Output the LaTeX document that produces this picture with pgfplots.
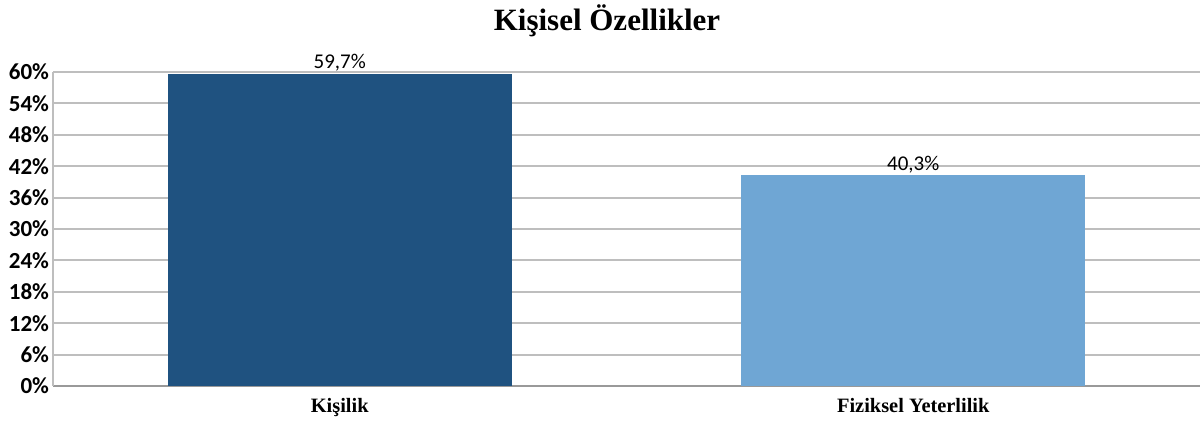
\documentclass[border=0pt]{standalone}
\usepackage{fontspec}
\setmainfont{Liberation Serif}
\newfontfamily\calfont{Carlito}
\usepackage{pgfplots}
\pgfplotsset{compat=1.18}
\definecolor{darkbar}{HTML}{1F5280}
\definecolor{lightbar}{HTML}{6FA6D4}
\definecolor{gridgray}{HTML}{BEBEBE}
\begin{document}
\begin{tikzpicture}
\begin{axis}[
  scale only axis,
  width=573.5pt, height=157pt,
  xmin=-0.5, xmax=1.5,
  ymin=0, ymax=60,
  ytick={0,6,...,60},
  yticklabel={\pgfmathprintnumber{\tick}\%},
  yticklabel style={font=\calfont\bfseries\fontsize{11.5}{13}\selectfont, xshift=1.5pt},
  /pgf/number format/assume math mode=true,
  xtick={0,1},
  xticklabels={Kişilik, Fiziksel Yeterlilik},
  xticklabel style={font=\bfseries\fontsize{10.2}{12}\selectfont, yshift=-2.5pt},
  major tick length=0pt,
  ymajorgrids,
  grid style={gridgray, line width=1pt},
  axis x line*=bottom,
  axis y line*=left,
  axis line style={gridgray, line width=1pt},
  x axis line style={color=black!40},
  ybar, bar width=0.6, bar shift=0pt,
  nodes near coords={\pgfmathprintnumber[fixed, fixed zerofill, precision=1, use comma]{\pgfplotspointmeta}\%},
  every node near coord/.append style={font=\calfont\fontsize{10.5}{12}\selectfont, inner sep=1pt, black},
  title={\bfseries Kişisel Özellikler},
  title style={font=\fontsize{15.5}{18}\selectfont, at={(0.483,1)}, anchor=center, yshift=19.5pt},
  clip=false,
]
\addplot[draw=none, fill=darkbar] coordinates {(0,59.7)};
\addplot[draw=none, fill=lightbar] coordinates {(1,40.3)};
\end{axis}
\pgfresetboundingbox
\path (-26.5pt,-17.5pt) rectangle (575pt,193pt);
\end{tikzpicture}
\end{document}
